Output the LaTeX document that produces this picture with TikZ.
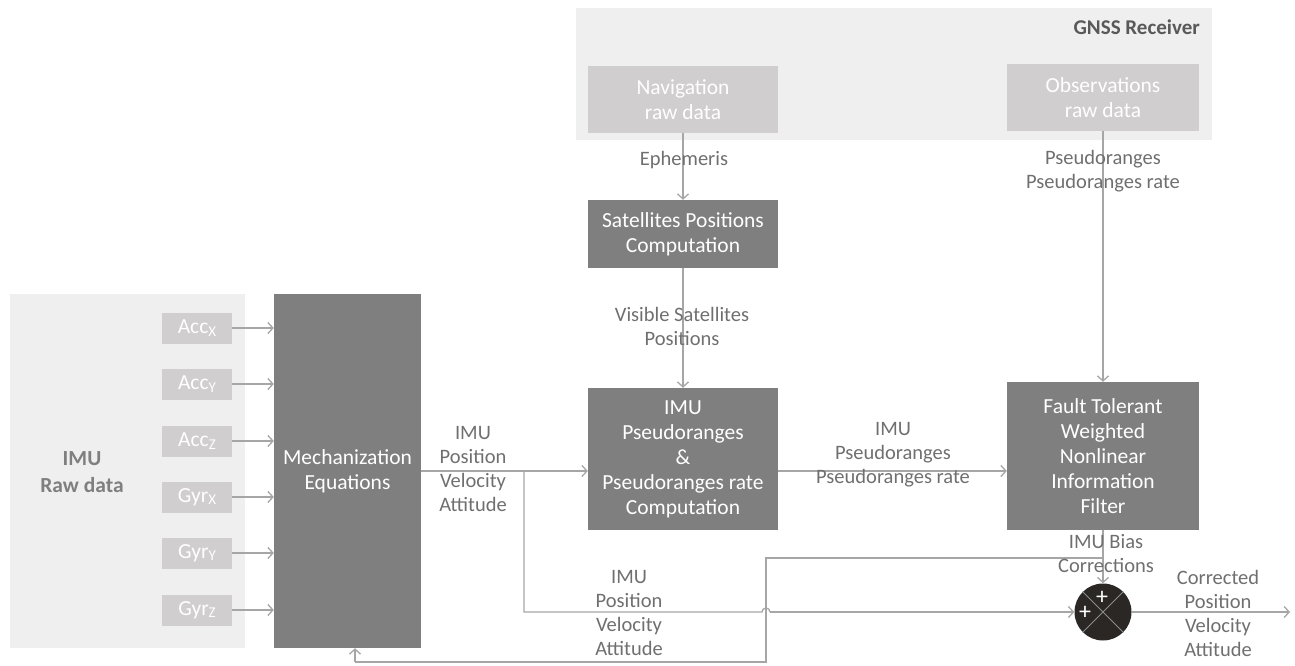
\documentclass[tikz,border=0pt]{standalone}
\usepackage{fontspec}
\setmainfont{Carlito}
\usetikzlibrary{arrows.meta,calc}
\definecolor{bgpanel}{HTML}{EFEFEF}
\definecolor{lightbox}{HTML}{D0CECE}
\definecolor{darkbox}{HTML}{7F7F7F}
\definecolor{wirecol}{HTML}{A6A6A6}
\definecolor{labeltext}{HTML}{6F6F6F}
\definecolor{titletext}{HTML}{595959}
\definecolor{sumfill}{HTML}{2A2725}
\definecolor{crossline}{HTML}{8C8C8C}
\newcommand{\sensorsub}[1]{\raisebox{-0.25ex}{\fontsize{15}{15}\selectfont #1}}
\begin{document}
\begin{tikzpicture}[x=1pt,y=-1pt,
  font=\fontsize{20.5}{24.5}\selectfont,
  panel/.style={fill=bgpanel, draw=none, inner sep=0pt},
  rawbox/.style={fill=lightbox, text=white, align=center, inner sep=0pt,
    font=\fontsize{21.5}{25}\selectfont},
  procbox/.style={fill=darkbox, text=white, align=center, inner sep=0pt,
    font=\fontsize{21.5}{25}\selectfont},
  wire/.style={draw=wirecol, line width=1.3pt},
  arr/.style={wire, -{Straight Barb[length=5pt,width=11pt]}},
  plusmark/.style={text=white, inner sep=0pt, font=\fontsize{24}{24}\selectfont},
  lbl/.style={text=labeltext, align=center, inner sep=0pt,
    font=\fontsize{20.5}{24}\selectfont}]

\useasboundingbox (0,0) rectangle (1295,666);

% background panels
\node[panel, minimum width=235pt, minimum height=354pt] (imubg) at (127.5,471) {};
\node[panel, minimum width=636pt, minimum height=132pt] (gnssbg) at (894,74) {};

\node[text=darkbox, font=\bfseries\fontsize{21.5}{27}\selectfont, align=center] (imulbl) at (82,472) {IMU\\Raw data};
\node[text=titletext, font=\bfseries\fontsize{21}{25}\selectfont, anchor=east, inner sep=0pt] (gnsslbl) at (1200,27) {GNSS Receiver};

% IMU sensor channels
\foreach \nm/\txt/\yy in {ax/Acc\sensorsub{X}/328, ay/Acc\sensorsub{Y}/384, az/Acc\sensorsub{Z}/441,
                          gx/Gyr\sensorsub{X}/497, gy/Gyr\sensorsub{Y}/553, gz/Gyr\sensorsub{Z}/610}
  \node[rawbox, minimum width=70pt, minimum height=31pt] (\nm) at (197,\yy) {\txt};

% processing blocks
\node[procbox, minimum width=147pt, minimum height=354pt] (mech) at (347.5,471) {Mechanization\\Equations};
\node[rawbox, minimum width=190pt, minimum height=67pt] (nav) at (683,99.5) {Navigation\\raw data};
\node[rawbox, minimum width=192pt, minimum height=67pt] (obs) at (1103,97.5) {Observations\\raw data};
\node[procbox, minimum width=190pt, minimum height=68pt] (sat) at (683,234) {Satellites Positions\\Computation};
\node[procbox, minimum width=190pt, minimum height=142pt] (pr) at (683,459) {IMU\\Pseudoranges\\\&\\Pseudoranges rate\\Computation};
\node[procbox, minimum width=192pt, minimum height=148pt] (ftw) at (1103,456) {Fault Tolerant\\Weighted\\Nonlinear\\Information\\Filter};

% summing junction
\node[circle, fill=sumfill, minimum size=57pt, inner sep=0pt] (sum) at (1103,612) {};
\draw[draw=crossline, line width=1pt] (sum.45) -- (sum.225) (sum.135) -- (sum.315);
\node[plusmark] (plustop) at (1102,598) {+};
\node[plusmark] (plusleft) at (1085,613) {+};

% sensor inputs
\foreach \nm in {ax,ay,az,gx,gy,gz}
  \draw[arr] (\nm.east) -- (\nm.east -| mech.west);

% GNSS chain
\draw[arr] (nav.south) -- (sat.north);
\draw[arr] (sat.south) -- (pr.north);
\draw[arr] (obs.south) -- (ftw.north);

% IMU solution path
\coordinate (split) at (524,471);
\coordinate (corner) at (524,612);
\coordinate (hopL) at (762,612);
\coordinate (hopR) at (770,612);
\coordinate (out) at (1290,612);
\draw[arr] (mech.east) -- (pr.west |- mech.east);
\draw[arr] (pr.east |- mech.east) -- (ftw.west |- mech.east);
\draw[wire] (split) -- (corner) -- (hopL) arc[start angle=180, end angle=0, radius=4pt];
\draw[arr] (hopR) -- (sum.west);
\draw[arr] (sum.east) -- (out);

% bias feedback
\coordinate (tap) at (1103,558);
\coordinate (fbA) at (766,558);
\coordinate (fbB) at (766,662);
\coordinate (fbC) at (355,662);
\draw[arr] (ftw.south) -- (sum.north);
\draw[wire] (tap) -- (fbA) -- (fbB) -- (fbC);
\draw[arr] (fbC) -- (fbC |- mech.south);

% connector labels
\node[lbl] (eph) at (684,160) {Ephemeris};
\node[lbl] (vis) at (682,326) {Visible Satellites\\Positions};
\node[lbl] (psr) at (1103,171) {Pseudoranges\\Pseudoranges rate};
\node[lbl] (imuout) at (473,469) {IMU\\Position\\Velocity\\Attitude};
\node[lbl] (imupr) at (893,455) {IMU\\Pseudoranges\\Pseudoranges rate};
\node[lbl] (imubr) at (629,613) {IMU\\Position\\Velocity\\Attitude};
\node[lbl] (bias) at (1106,554) {IMU Bias\\Corrections};
\node[lbl] (corr) at (1218,613) {Corrected\\Position\\Velocity\\Attitude};
\end{tikzpicture}
\end{document}
